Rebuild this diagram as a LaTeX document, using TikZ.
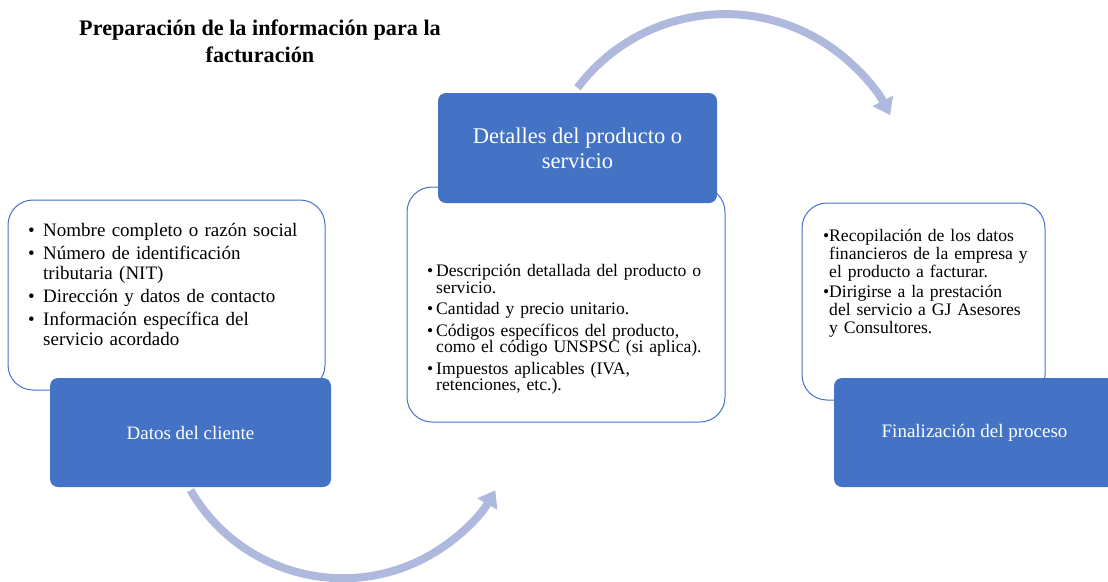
\documentclass[tikz,border=0pt]{standalone}
\usepackage{fontspec}
\setmainfont{Liberation Serif}
\usetikzlibrary{arrows.meta}
\definecolor{boxblue}{HTML}{4472C4}
\definecolor{arrowblue}{HTML}{AFB9DE}
\tikzstyle{infobox}=[draw=boxblue,line width=1pt,fill=white,rounded corners=25pt,inner sep=0pt]
\tikzstyle{stepbox}=[fill=boxblue,text=white,rounded corners=8pt,inner sep=0pt,align=center,font=\fontsize{19}{21}\selectfont]
\tikzstyle{itemtext}=[anchor=north west,inner sep=0pt,text width=310pt,align=left]
\tikzstyle{cyclearrow}=[draw=arrowblue,line width=8pt,-{Triangle[width=22pt,length=16pt]}]
\newcommand{\bul}[1]{\par\noindent\hangindent=#1\hangafter=1\makebox[#1][l]{•}}
\begin{document}
\begin{tikzpicture}[x=1pt,y=-1pt]
   \useasboundingbox (0,0) rectangle (1108,581);

   \node[font=\bfseries\fontsize{22.2}{27}\selectfont,align=center] (title) at (260,41)
        {Preparación de la información para la\\facturación};

    % white boxes first, the blue ones sit on top of them
    \foreach \pos/ \name/ \w/ \h in {{(166.5,295)/datosinfo/317/190},{(566,304.5)/detallesinfo/318/235},{(923.5,301.5)/fininfo/243/197}}
        \node[infobox,minimum width=\w pt,minimum height=\h pt] (\name) at \pos {};

    \foreach \pos/ \name/ \label in {{(190.5,432.5)/cliente/Datos del cliente},{(974.5,432.5)/fin/Finalización del proceso}}
        \node[stepbox,minimum width=281pt,minimum height=109pt] (\name) at \pos {\label};
    \node[stepbox,font=\fontsize{22.5}{25}\selectfont,minimum width=279pt,minimum height=110pt] (detalles) at (577.5,148)
        {Detalles del producto o\\servicio};

    % bullet lists
    \node[itemtext,font=\fontsize{19}{20}\selectfont] (datostxt) at (28,213) {\setlength{\parskip}{3pt}%
        \bul{15pt}Nombre completo o razón social
        \bul{15pt}Número de identificación\newline tributaria (NIT)
        \bul{15pt}Dirección y datos de contacto
        \bul{15pt}Información específica del\newline servicio acordado\par};
    \node[itemtext,font=\fontsize{17.6}{16.5}\selectfont] (detallestxt) at (427,255) {\setlength{\parskip}{5pt}%
        \bul{9pt}Descripción detallada del producto o\newline servicio.
        \bul{9pt}Cantidad y precio unitario.
        \bul{9pt}Códigos específicos del producto,\newline como el código UNSPSC (si aplica).
        \bul{9pt}Impuestos aplicables (IVA,\newline retenciones, etc.).\par};
    \node[itemtext,font=\fontsize{17.6}{18}\selectfont] (fintxt) at (823,221) {\setlength{\parskip}{2pt}%
        \bul{6pt}Recopilación de los datos\newline financieros de la empresa y\newline el producto a facturar.
        \bul{6pt}Dirigirse a la prestación\newline del servicio a GJ Asesores\newline y Consultores.\par};

    % curved arrows between the steps
    \coordinate (lowstart) at ([yshift=-3pt]cliente.south);
    \coordinate (highstart) at ([yshift=5pt]detalles.north);
    \draw[cyclearrow] (lowstart) arc[start angle=150,end angle=30,radius=176];
    \draw[cyclearrow] (highstart) arc[start angle=-143,end angle=-27,radius=185];
\end{tikzpicture}
\end{document}
